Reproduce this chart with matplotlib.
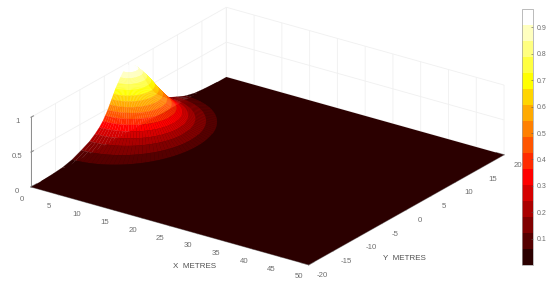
import numpy as np
import matplotlib
matplotlib.use('Agg')
import matplotlib.pyplot as plt
from matplotlib.colors import ListedColormap, Normalize, to_rgba
from matplotlib.cm import ScalarMappable

plt.rcParams['font.family'] = ['Liberation Sans', 'DejaVu Sans']
plt.rcParams['axes.unicode_minus'] = False

# 16 level colour table
band_colors = ['#2b0000', '#550000', '#800000', '#aa0000', '#d50000', '#ff0000',
               '#ff2b00', '#ff5500', '#ff8000', '#ffaa00', '#ffd500', '#ffff00',
               '#ffff40', '#ffff80', '#ffffbf', '#ffffff']

# dome: reach along x and y (m), height, colour band of the ring inside it
ring_x_reach = [20.0, 17.0, 14.5, 12.2, 11.0, 9.7, 8.8, 8.0, 7.2, 6.5, 5.8,
                5.1, 4.4, 3.8, 3.2, 2.6, 2.0, 1.4, 0.7, 0.0]
ring_y_reach = [18.0, 15.5, 13.5, 11.6, 9.7, 8.0, 6.9, 6.0, 5.3, 4.8, 4.3,
                3.9, 3.5, 3.1, 2.7, 2.2, 1.7, 1.1, 0.5, 0.0]
ring_height = [0.0, 0.011, 0.026, 0.0606, 0.121, 0.182, 0.2425, 0.303, 0.364, 0.424, 0.485,
               0.546, 0.606, 0.667, 0.728, 0.788, 0.849, 0.909, 0.94, 0.96]
ring_band = [0, 0, 0, 1, 2, 3, 4, 5, 6, 7, 8, 9, 10, 11, 12, 13, 14, 15, 15]

x_limits = [0, 50]
y_limits = [-20, 20]
z_limits = [0, 1]
x_ticks = [0, 5, 10, 15, 20, 25, 30, 35, 40, 45, 50]
y_ticks = [-20, -15, -10, -5, 0, 5, 10, 15, 20]
z_ticks = [0, 0.5, 1]
z_tick_labels = ['0', '0.5', '1']
cbar_ticks = [0.1, 0.2, 0.3, 0.4, 0.5, 0.6, 0.7, 0.8, 0.9]
cbar_limits = [0, 0.97]

grey = '#6e6e6e'
fs = 5.6

fig = plt.figure(figsize=(5.5, 2.87), dpi=100)
ax = fig.add_axes([-0.0271, -0.4578, 1, 1.916], projection='3d')
ax.set_proj_type('ortho')
ax.view_init(elev=23.4, azim=-54.8)
ax.set_box_aspect((340, 339, 76), zoom=0.8577)
ax.computed_zorder = False
ax.patch.set_alpha(0)

# flat floor
floor_x, floor_y = np.meshgrid(x_limits, y_limits)
ax.plot_surface(floor_x, floor_y, np.zeros_like(floor_x, dtype=float), color=band_colors[0],
                shade=False, linewidth=0, antialiased=True, zorder=1)

# half dome at x=0
theta = np.radians(np.arange(-90, 90.5, 3))
dome_x = np.outer(ring_x_reach, np.cos(theta))
dome_y = np.outer(ring_y_reach, np.sin(theta))
dome_z = np.repeat(np.array(ring_height)[:, None], len(theta), axis=1)
face = np.empty((len(ring_band), len(theta) - 1, 4))
for i, b in enumerate(ring_band):
    face[i, :] = to_rgba(band_colors[b])
ax.plot_surface(dome_x, dome_y, dome_z, facecolors=face, shade=False,
                rstride=1, cstride=1, linewidth=0.15, antialiased=True, zorder=2)

ax.set_xlim(x_limits)
ax.set_ylim(y_limits)
ax.set_zlim(z_limits)
ax.set_xticks(x_ticks)
ax.set_yticks(y_ticks)
ax.set_zticks(z_ticks)
ax.set_zticklabels(z_tick_labels)
ax.zaxis.set_ticks_position('lower')

for axis in (ax.xaxis, ax.yaxis, ax.zaxis):
    axis.set_pane_color((1, 1, 1, 0))
    axis.pane.set_edgecolor('#ececec')
    axis.line.set_color('#8c8c8c')
    axis.line.set_linewidth(0.7)
    axis._axinfo['grid'].update(color='#f0f0f0', linewidth=0.6)
    axis._axinfo['tick'].update(inward_factor=0, outward_factor=0.35)
    axis.set_tick_params(labelsize=fs, labelcolor=grey, color='#8c8c8c', width=0.5, pad=2)
ax.zaxis._axinfo['tick'].update(outward_factor=0.15)
ax.zaxis.set_tick_params(pad=-2)

fig.text(195 / 550, 1 - 267 / 287, 'X  METRES', fontsize=5.8, color='#505050', ha='center', va='center')
fig.text(404 / 550, 1 - 259 / 287, 'Y  METRES', fontsize=5.8, color='#505050', ha='center', va='center')

cax = fig.add_axes([522 / 550, 1 - 265 / 287, 11 / 550, 256 / 287])
sm = ScalarMappable(norm=Normalize(*cbar_limits), cmap=ListedColormap(band_colors))
cb = fig.colorbar(sm, cax=cax, ticks=cbar_ticks)
cb.ax.tick_params(direction='in', length=1.5, width=0.4, color='#555555', labelsize=fs - 0.6,
                  labelcolor=grey, pad=3)
cb.outline.set_edgecolor('#a0a0a0')
cb.outline.set_linewidth(0.5)
cb.ax.set_yticklabels([str(t) for t in cbar_ticks])

fig.savefig('out.png', dpi=100)
